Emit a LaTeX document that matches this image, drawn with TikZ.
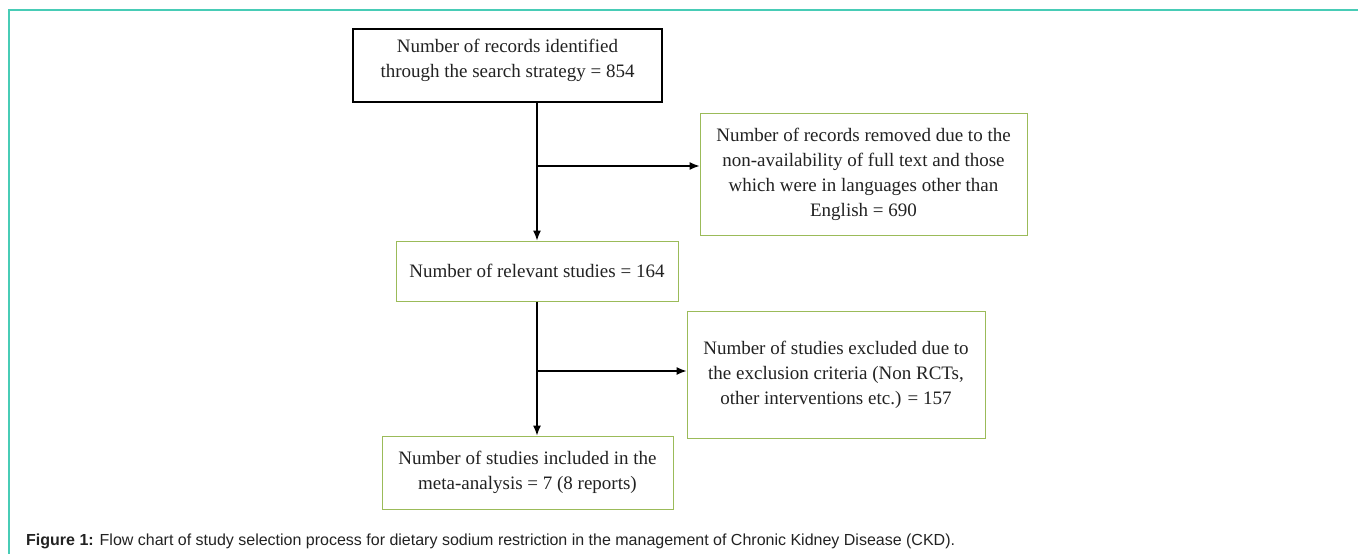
\documentclass[tikz,border=0pt]{standalone}
\usepackage{fontspec}
\setmainfont{Liberation Serif}
\newfontfamily\capfont{Liberation Sans}
\usetikzlibrary{arrows.meta}
\definecolor{framecol}{RGB}{72,204,182}
\definecolor{boxgreen}{RGB}{155,187,89}
\definecolor{inkgray}{RGB}{34,34,34}

\begin{document}
\begin{tikzpicture}[x=1pt,y=-1pt,
  flowbox/.style={draw=boxgreen,line width=1pt,fill=white,text=inkgray,align=center,inner sep=0pt,font=\fontsize{19}{25}\selectfont},
  flowarrow/.style={line width=1.2pt,-{Latex[length=10pt,width=8pt]}}]
\useasboundingbox (0,0) rectangle (1358,554);
\draw[framecol,line width=2pt] (9,554) -- (9,10) -- (1358,10);
\node[flowbox,draw=black,line width=1.3pt,minimum width=309pt,minimum height=73pt] (records) at (507.5,65.5) {Number of records identified\\through the search strategy = 854\\[-10pt]\mbox{}};
\node[flowbox,minimum width=327pt,minimum height=122pt] (removed) at (863.5,174) {Number of records removed due to the\\non-availability of full text and those\\which were in languages other than\\English = 690};
\node[flowbox,minimum width=282pt,minimum height=60pt] (relevant) at (537,271) {Number of relevant studies = 164};
\node[flowbox,minimum width=298pt,minimum height=127pt] (excluded) at (836,374.5) {Number of studies excluded due to\\the exclusion criteria (Non RCTs,\\other interventions etc.) = 157};
\node[flowbox,minimum width=291pt,minimum height=73pt] (included) at (527.5,472.5) {Number of studies included in the\\meta-analysis = 7 (8 reports)};
\coordinate (split1) at (537,166);
\coordinate (split2) at (537,371);
\draw[flowarrow] (records.south -| relevant.north) -- (relevant.north);
\draw[flowarrow] (split1) -- (split1 -| removed.west);
\draw[flowarrow] (relevant.south) -- (relevant.south |- included.north);
\draw[flowarrow] (split2) -- (split2 -| excluded.west);
\node[anchor=base west,inner sep=0pt,text=inkgray,font=\capfont\fontsize{16}{19}\selectfont] (caption) at (26,545) {\textbf{Figure 1:} Flow chart of study selection process for dietary sodium restriction in the management of Chronic Kidney Disease (CKD).};
\end{tikzpicture}
\end{document}
